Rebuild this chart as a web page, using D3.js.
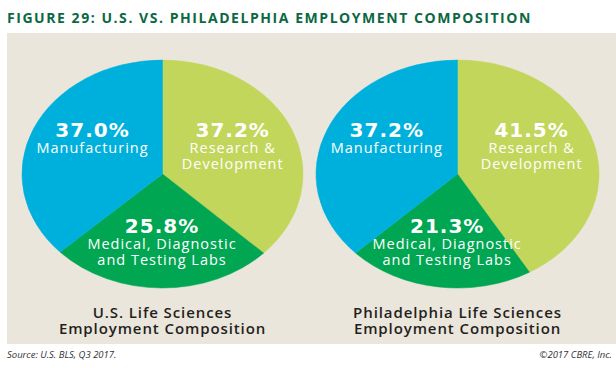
<!DOCTYPE html>
<html>
<head>
<meta charset="utf-8">
<script src="https://cdn.jsdelivr.net/npm/d3@7"></script>
<style>
    body { margin: 0; background: #ffffff; }
    svg { display: block; font-family: "Open Sans", sans-serif; }
</style>
</head>
<body>
<div id="chart"></div>
<script>
// slices go clockwise from 12 o'clock in this order
const categories = ["Research & Development", "Medical, Diagnostic and Testing Labs", "Manufacturing"];
const category_lines = [["Research &", "Development"], ["Medical, Diagnostic", "and Testing Labs"], ["Manufacturing"]];
const us_values = [37.2, 25.8, 37.0];
const phl_values = [41.5, 21.3, 37.2];
const pie_titles = [["U.S. Life Sciences", "Employment Composition"], ["Philadelphia Life Sciences", "Employment Composition"]];

const title_text = "FIGURE 29: U.S. VS. PHILADELPHIA EMPLOYMENT COMPOSITION";
const source_text = "Source: U.S. BLS, Q3 2017.";
const copyright_text = "\u00A92017 CBRE, Inc.";

class PieView {
    constructor(svg, values, title_lines, cx, cy, rx, ry) {
        this.svg = svg;
        this.values = values;
        this.title_lines = title_lines;
        this.cx = cx;
        this.cy = cy;
        this.rx = rx;
        this.ry = ry;

        this.color = d3.scaleOrdinal()
            .domain(categories)
            .range(["#c2d65b", "#00a652", "#00b0dc"]);

        this.drawPanel();
    }

    drawPanel() {
        let pie = d3.pie().sort(null).value(d => d.value);
        let arcs = pie(this.values.map((v, i) => ({ key: categories[i], value: v, lines: category_lines[i] })));

        // unit arc, stretched into the ellipse with a scale transform
        let arc = d3.arc().innerRadius(0).outerRadius(1);

        this.svg.append("g")
            .attr("transform", `translate(${this.cx},${this.cy}) scale(${this.rx},${this.ry})`)
            .selectAll("path")
            .data(arcs)
            .join("path")
            .attr("d", arc)
            .attr("fill", d => this.color(d.data.key))
            .attr("stroke", d => this.color(d.data.key))
            .attr("stroke-width", 0.004);

        let label_arc = d3.arc().innerRadius(0).outerRadius(1.086);

        let label_group = this.svg.append("g")
            .attr("transform", `translate(${this.cx},${this.cy})`)
            .attr("fill", "#ffffff")
            .attr("text-anchor", "middle");

        arcs.forEach(d => {
            let c = label_arc.centroid(d);
            let x = c[0] * this.rx;
            // labels above the centre share one row, the bottom slice gets another
            let y0 = c[1] < 0 ? -37 : 59;

            label_group.append("text")
                .attr("x", x)
                .attr("y", y0)
                .attr("font-family", "DejaVu Sans, sans-serif")
                .attr("font-size", 20)
                .attr("font-weight", 700)
                .attr("letter-spacing", 1)
                .text(d.data.value.toFixed(1) + "%");

            d.data.lines.forEach((line, j) => {
                label_group.append("text")
                    .attr("x", x)
                    .attr("y", y0 + 16 * (j + 1))
                    .attr("font-size", 14.5)
                    .attr("letter-spacing", 1)
                    .text(line);
            });
        });

        this.svg.append("g")
            .attr("transform", `translate(${this.cx},0)`)
            .selectAll("text")
            .data(this.title_lines)
            .join("text")
            .attr("x", 0)
            .attr("y", (d, i) => 318 + i * 15.5)
            .attr("text-anchor", "middle")
            .attr("font-size", 15)
            .attr("font-weight", 600)
            .attr("letter-spacing", 0.9)
            .attr("fill", "#231f20")
            .text(d => d);
    }
}

let svg = d3.select("#chart")
    .append("svg")
    .attr("width", 616)
    .attr("height", 372);

svg.append("rect")
    .attr("x", 7)
    .attr("y", 33)
    .attr("width", 609)
    .attr("height", 311)
    .attr("fill", "#ebe6dc");

svg.append("text")
    .attr("x", 7)
    .attr("y", 23)
    .attr("font-size", 14)
    .attr("font-weight", 700)
    .attr("letter-spacing", 1.55)
    .attr("fill", "#0b6842")
    .text(title_text);

let us_view = new PieView(svg, us_values, pie_titles[0], 162.5, 174, 140.5, 114);
let phl_view = new PieView(svg, phl_values, pie_titles[1], 457.5, 174, 141.5, 114);

svg.append("text")
    .attr("x", 7)
    .attr("y", 358)
    .attr("font-size", 9.5)
    .attr("font-style", "italic")
    .attr("fill", "#333333")
    .text(source_text);

svg.append("text")
    .attr("x", 612)
    .attr("y", 358)
    .attr("font-size", 9.5)
    .attr("font-style", "italic")
    .attr("text-anchor", "end")
    .attr("fill", "#333333")
    .text(copyright_text);
</script>
</body>
</html>
